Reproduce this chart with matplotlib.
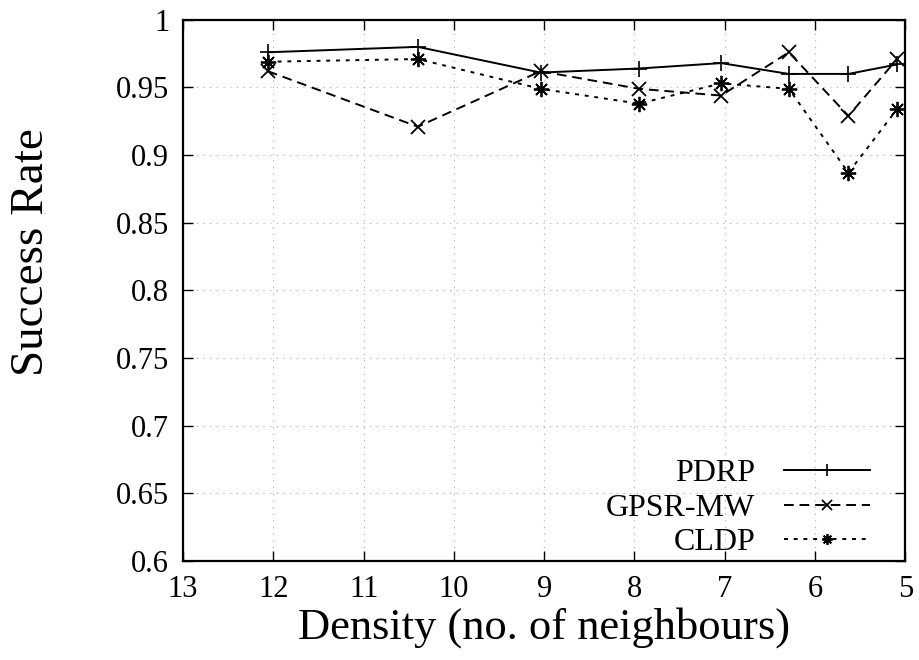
import matplotlib.pyplot as plt

plt.rcParams['font.family'] = ['Liberation Serif', 'DejaVu Serif']

# data
density = [12.06, 10.40, 9.04, 7.95, 7.04, 6.29, 5.63, 5.09]
pdrp = [0.976, 0.980, 0.961, 0.964, 0.968, 0.960, 0.960, 0.967]
gpsr = [0.962, 0.921, 0.962, 0.949, 0.944, 0.976, 0.929, 0.971]
cldp = [0.969, 0.971, 0.949, 0.938, 0.953, 0.949, 0.887, 0.934]

xticks = [13, 12, 11, 10, 9, 8, 7, 6, 5]
yticks = [0.6, 0.65, 0.7, 0.75, 0.8, 0.85, 0.9, 0.95, 1]
ytick_labels = ['0.6', '0.65', '0.7', '0.75', '0.8', '0.85', '0.9', '0.95', '1']

fig = plt.figure(figsize=(9.2, 6.6), dpi=100)
ax = fig.add_axes([0.199, 0.150, 0.785, 0.820])

ax.plot(density, pdrp, color='black', lw=1.4, marker='+', ms=12, mew=1.2, label='PDRP')
ax.plot(density, gpsr, color='black', lw=1.4, ls=(0, (5, 3)), marker='x', ms=10, mew=1.3,
        label='GPSR-MW')
ax.plot(density, cldp, color='black', lw=1.4, ls=(0, (2, 3)), marker=(8, 2, 0), ms=11, mew=1.3,
        label='CLDP')

ax.set_xlim(13, 5)
ax.set_ylim(0.6, 1)
ax.set_xticks(xticks)
ax.set_yticks(yticks)
ax.set_yticklabels(ytick_labels)

ax.grid(True, color='#aaaaaa', ls=(0, (1, 5)), lw=0.8)
ax.tick_params(direction='in', length=7, width=1, labelsize=22, top=True, right=True, pad=10)
for s in ax.spines.values():
    s.set_linewidth(1.6)

ax.set_xlabel('Density (no. of neighbours)', fontsize=32, labelpad=2)
ax.set_ylabel('Success Rate', fontsize=34)
ax.yaxis.set_label_coords(-0.180, 0.57)

leg = ax.legend(loc='lower right', frameon=False, markerfirst=False, fontsize=23,
                handlelength=2.7, handletextpad=0.9, labelspacing=0.16,
                borderaxespad=0.0, borderpad=0.2, bbox_to_anchor=(0.96, -0.005),
                markerscale=0.7)
for t in leg.get_texts():
    t.set_ha('right')

fig.savefig('out.png', dpi=100)
